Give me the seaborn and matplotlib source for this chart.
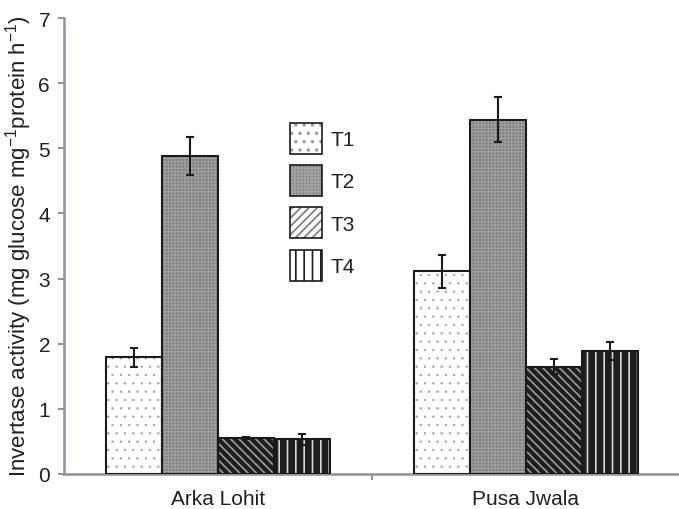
import matplotlib
matplotlib.use("Agg")
import matplotlib.pyplot as plt
import matplotlib.patches as mpatches
from matplotlib.legend_handler import HandlerTuple
import seaborn as sns
import pandas as pd

# Invertase activity per cultivar and treatment (mean and error)
cultivars = ["Arka Lohit", "Pusa Jwala"]
treatments = ["T1", "T2", "T3", "T4"]
t1_mean = [1.79, 3.11]
t2_mean = [4.88, 5.44]
t3_mean = [0.55, 1.65]
t4_mean = [0.53, 1.89]
t1_err = [0.15, 0.25]
t2_err = [0.29, 0.35]
t3_err = [0.02, 0.12]
t4_err = [0.08, 0.14]
y_ticks = [0, 1, 2, 3, 4, 5, 6, 7]

means = [t1_mean, t2_mean, t3_mean, t4_mean]
errs = [t1_err, t2_err, t3_err, t4_err]

df = pd.DataFrame({
    "cultivar": [c for _ in treatments for c in cultivars],
    "treatment": [t for t in treatments for _ in cultivars],
    "activity": [v for m in means for v in m],
})

sns.set_theme(style="white")
plt.rcParams["font.family"] = ["Liberation Sans", "DejaVu Sans"]
plt.rcParams["hatch.linewidth"] = 1.2

text_col = "#231f20"
spine_col = "#8d949b"
edge_col = "#1a1a1a"

# bar fills: (face colour, hatch, hatch colour, hatch line width)
bar_styles = [
    ("#ffffff", "..", "#9a9a9a", 0.4),
    ("#7e7e7e", "+++++", "#a2a2a2", 0.8),
    ("#1e1e1e", "\\\\\\\\", "#9c9c9c", 1.2),
    ("#1e1e1e", "||", "#d8d8d8", 1.2),
]
legend_styles = [
    ("#ffffff", "..", "#9a9a9a", 0.4),
    ("#7e7e7e", "+++++", "#a2a2a2", 0.8),
    ("#ffffff", "////", "#7a7a7a", 1.0),
    ("#ffffff", "||", "#1e1e1e", 1.2),
]


def style_patch(p, face, hatch, hcol, hlw):
    p.set_facecolor(face)
    p.set_hatch(hatch)
    p.set_edgecolor(hcol)
    p.set_linewidth(0)
    if hasattr(p, "set_hatch_linewidth"):
        p.set_hatch_linewidth(hlw)


fig = plt.figure(figsize=(6.79, 5.10), dpi=100)
ax = fig.add_axes([64 / 679, 35 / 510, 616 / 679, 456 / 510])

sns.barplot(data=df, x="cultivar", y="activity", hue="treatment",
            order=cultivars, hue_order=treatments,
            palette=[s[0] for s in bar_styles], width=0.727, gap=0,
            errorbar=None, legend=False, ax=ax, saturation=1)

for cont, st, m, e in zip(ax.containers, bar_styles, means, errs):
    xs = []
    for p in cont.patches:
        style_patch(p, *st)
        ax.add_patch(mpatches.Rectangle(p.get_xy(), p.get_width(), p.get_height(),
                                        fill=False, edgecolor=edge_col, lw=1.5, zorder=3))
        xs.append(p.get_x() + p.get_width() / 2)
    ax.errorbar(xs, m, yerr=e, fmt="none", ecolor=edge_col, elinewidth=1.5,
                capsize=3, capthick=1.5, zorder=4)

ax.set_xlim(-0.5, 1.5)
ax.set_ylim(0, 7)
ax.set_yticks(y_ticks)
ax.set_xticks([0, 1])
ax.set_xticklabels(cultivars)
ax.set_xticks([0.5], minor=True)
ax.tick_params(axis="x", which="major", length=0, pad=11, labelsize=15, labelcolor=text_col)
ax.tick_params(axis="x", which="minor", length=4, width=1.5, color=spine_col, bottom=True)
ax.tick_params(axis="y", length=4, width=1.5, color=spine_col, pad=6, labelsize=15,
               labelcolor=text_col, left=True)

for s in ["top", "right"]:
    ax.spines[s].set_visible(False)
for s in ["left", "bottom"]:
    ax.spines[s].set_color(spine_col)
    ax.spines[s].set_linewidth(1.8)

ax.set_xlabel("")
ax.set_ylabel("Invertase activity (mg glucose mg$^{\\mathregular{-1}}$protein h$^{\\mathregular{-1}}$)",
              fontsize=16, color=text_col)
ax.yaxis.set_label_coords(-0.049, 0.502)

handles = []
for st in legend_styles:
    fillp = mpatches.Patch()
    style_patch(fillp, *st)
    outline = mpatches.Patch(fill=False, edgecolor=edge_col, lw=1.2)
    handles.append((fillp, outline))
ax.legend(handles, treatments, handler_map={tuple: HandlerTuple(ndivide=1, pad=0)},
          loc="upper left", bbox_to_anchor=(290 / 679, 1 - 124 / 510),
          bbox_transform=fig.transFigure, frameon=False, fontsize=15,
          handlelength=1.53, handleheight=1.91, labelspacing=0.54,
          handletextpad=0.42, borderpad=0, borderaxespad=0, labelcolor=text_col)

fig.savefig("out.png", dpi=100)
